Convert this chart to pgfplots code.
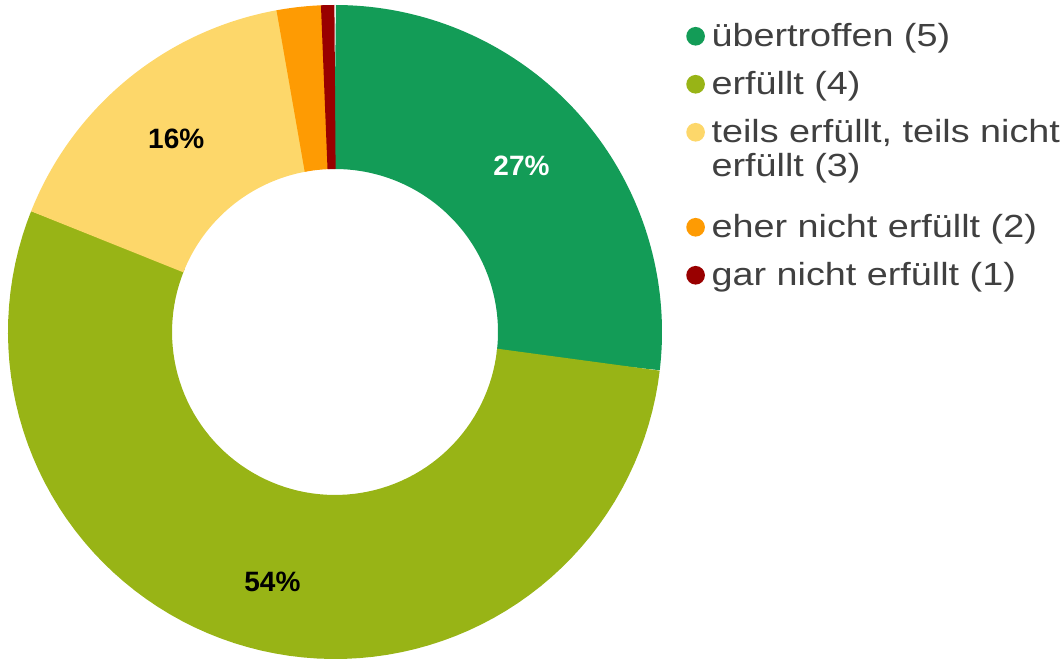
\documentclass[border=0pt]{standalone}
\usepackage{pgfplots}
\usepackage{pgfplotstable}
\pgfplotsset{compat=1.18}
\usepackage{fontspec}
\setmainfont{Liberation Sans}
\newfontfamily\legfont[FakeStretch=1.18]{Liberation Sans}

\definecolor{cGreen}{HTML}{139C57}
\definecolor{cOlive}{HTML}{98B416}
\definecolor{cYellow}{HTML}{FDD76A}
\definecolor{cOrange}{HTML}{FE9B03}
\definecolor{cRed}{HTML}{990000}
\definecolor{textgray}{HTML}{404040}

% shares in percent, clockwise from 12 o'clock
\pgfplotstableread{
share
26.8
54.2
16.1
2.2
0.7
}\shares

\begin{document}
\begin{tikzpicture}
\pgfplotstablegetelem{0}{share}\of\shares \pgfmathsetmacro\aA{90-3.6*\pgfplotsretval}
\pgfplotstablegetelem{1}{share}\of\shares \pgfmathsetmacro\aB{\aA-3.6*\pgfplotsretval}
\pgfplotstablegetelem{2}{share}\of\shares \pgfmathsetmacro\aC{\aB-3.6*\pgfplotsretval}
\pgfplotstablegetelem{3}{share}\of\shares \pgfmathsetmacro\aD{\aC-3.6*\pgfplotsretval}
\pgfplotstablegetelem{4}{share}\of\shares \pgfmathsetmacro\aE{\aD-3.6*\pgfplotsretval}
\pgfmathsetmacro\mA{(90+\aA)/2}
\pgfmathsetmacro\mB{(\aA+\aB)/2}
\pgfmathsetmacro\mC{(\aB+\aC)/2}
% small overlap so no seams show between segments
\pgfmathsetmacro\oA{\aA-0.4}
\pgfmathsetmacro\oB{\aB-0.4}
\pgfmathsetmacro\oC{\aC-0.4}
\pgfmathsetmacro\oD{\aD-0.4}
\begin{axis}[
    x=0.75pt, y=0.75pt,
    xmin=-335, xmax=727, ymin=-327, ymax=332,
    enlargelimits=false,
    hide axis, clip=false,
    legend style={at={(axis cs:351,310)}, anchor=north west, draw=none, fill=none,
        inner sep=0pt, row sep=16.5pt, column sep=5pt,
        font=\legfont\fontsize{24}{25.5}\selectfont, text=textgray,
        cells={anchor=base west}, nodes={inner sep=0pt, text height=18pt}},
    ring/.style={line width=123pt, samples=80},
    dot/.style={legend image code/.code={\path[fill=#1, draw=none, line width=0pt] (7pt,7.5pt) circle (7pt);}},
]
\addplot[ring, draw=cGreen, domain=\oA:90, dot=cGreen]
    ({245*cos(x)},{245*sin(x)});
\addlegendentry{übertroffen (5)}
\addplot[ring, draw=cOlive, domain=\oB:\aA, dot=cOlive]
    ({245*cos(x)},{245*sin(x)});
\addlegendentry{erfüllt (4)}
\addplot[ring, draw=cYellow, domain=\oC:\aB, dot=cYellow]
    ({245*cos(x)},{245*sin(x)});
\addlegendentry{\begin{tabular}[t]{@{}l@{}}teils erfüllt, teils nicht\\erfüllt (3)\end{tabular}}
\addplot[ring, draw=cOrange, domain=\oD:\aC, samples=10, dot=cOrange]
    ({245*cos(x)},{245*sin(x)});
\addlegendentry[text height=53.25pt]{eher nicht erfüllt (2)}
\addplot[ring, draw=cRed, domain=\aE:\aD, samples=5, dot=cRed]
    ({245*cos(x)},{245*sin(x)});
\addlegendentry{gar nicht erfüllt (1)}

\node[font=\bfseries\fontsize{21}{21}\selectfont, text=white] at (axis cs:{250*cos(\mA)},{250*sin(\mA)}) {27\%};
\node[font=\bfseries\fontsize{21}{21}\selectfont, text=black] at (axis cs:{258*cos(\mB)},{258*sin(\mB)}) {54\%};
\node[font=\bfseries\fontsize{21}{21}\selectfont, text=black] at (axis cs:{250*cos(\mC)},{250*sin(\mC)}) {16\%};
\coordinate (bbA) at (axis cs:-335,-327);
\coordinate (bbB) at (axis cs:727,332);
\end{axis}
\pgfresetboundingbox
\path[use as bounding box] (bbA) rectangle (bbB);
\end{tikzpicture}
\end{document}
